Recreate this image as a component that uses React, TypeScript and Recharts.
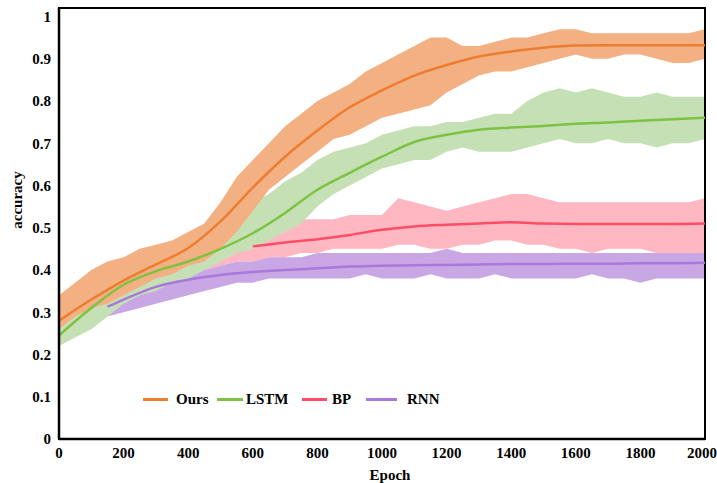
import {
  ComposedChart,
  Area,
  Line,
  XAxis,
  YAxis,
  Legend,
  ReferenceArea,
} from 'recharts'

// epochs sampled for the noisy bands
const bandEpochs = [
  0, 50, 100, 150, 200, 250, 300, 350, 400, 450, 500, 550, 600, 650, 700, 750, 800, 850, 900, 950,
  1000, 1050, 1100, 1150, 1200, 1250, 1300, 1350, 1400, 1450, 1500, 1550, 1600, 1650, 1700, 1750,
  1800, 1850, 1900, 1950, 2000,
]

const oursLow = [
  0.26, 0.29, 0.31, 0.32, 0.34, 0.36, 0.38, 0.39, 0.41, 0.42, 0.45, 0.49, 0.54, 0.59, 0.62, 0.65,
  0.68, 0.71, 0.72, 0.74, 0.76, 0.77, 0.78, 0.79, 0.82, 0.84, 0.86, 0.87, 0.87, 0.88, 0.89, 0.9,
  0.91, 0.9, 0.9, 0.91, 0.91, 0.9, 0.89, 0.89, 0.9,
]
const oursHigh = [
  0.34, 0.37, 0.4, 0.42, 0.43, 0.45, 0.46, 0.47, 0.49, 0.51, 0.56, 0.62, 0.66, 0.7, 0.74, 0.77,
  0.8, 0.82, 0.84, 0.87, 0.89, 0.91, 0.93, 0.95, 0.95, 0.93, 0.93, 0.94, 0.95, 0.95, 0.96, 0.97,
  0.97, 0.96, 0.96, 0.96, 0.96, 0.96, 0.96, 0.96, 0.97,
]
const lstmLow = [
  0.22, 0.24, 0.26, 0.29, 0.32, 0.34, 0.35, 0.37, 0.38, 0.4, 0.42, 0.44, 0.45, 0.47, 0.49, 0.51,
  0.55, 0.58, 0.6, 0.62, 0.64, 0.65, 0.66, 0.66, 0.68, 0.69, 0.68, 0.68, 0.68, 0.69, 0.7, 0.71,
  0.7, 0.7, 0.71, 0.7, 0.7, 0.69, 0.7, 0.7, 0.71,
]
const lstmHigh = [
  0.3, 0.33, 0.36, 0.38, 0.4, 0.42, 0.44, 0.45, 0.46, 0.48, 0.51, 0.54, 0.56, 0.58, 0.61, 0.63,
  0.66, 0.68, 0.69, 0.7, 0.72, 0.73, 0.74, 0.74, 0.75, 0.75, 0.76, 0.77, 0.77, 0.8, 0.82, 0.83,
  0.82, 0.83, 0.82, 0.81, 0.81, 0.82, 0.81, 0.81, 0.81,
]
const bpLow = [
  null, null, null, null, null, null, null, null, null, 0.4, 0.41, 0.42, 0.42, 0.43, 0.43, 0.44,
  0.44, 0.45, 0.45, 0.45, 0.45, 0.46, 0.46, 0.45, 0.45, 0.46, 0.46, 0.47, 0.47, 0.46, 0.46, 0.45,
  0.45, 0.44, 0.45, 0.45, 0.45, 0.44, 0.42, 0.43, 0.43,
]
const bpHigh = [
  null, null, null, null, null, null, null, null, null, 0.46, 0.48, 0.5, 0.51, 0.51, 0.51, 0.52,
  0.52, 0.52, 0.53, 0.53, 0.53, 0.57, 0.56, 0.55, 0.54, 0.55, 0.56, 0.57, 0.58, 0.58, 0.57, 0.56,
  0.56, 0.56, 0.56, 0.56, 0.56, 0.56, 0.56, 0.56, 0.57,
]
const rnnLow = [
  null, null, null, 0.29, 0.3, 0.31, 0.32, 0.33, 0.34, 0.35, 0.36, 0.37, 0.37, 0.38, 0.38, 0.38,
  0.38, 0.38, 0.38, 0.39, 0.38, 0.38, 0.38, 0.39, 0.38, 0.38, 0.38, 0.39, 0.38, 0.38, 0.38, 0.38,
  0.38, 0.39, 0.38, 0.38, 0.37, 0.38, 0.38, 0.38, 0.38,
]
const rnnHigh = [
  null, null, null, 0.33, 0.35, 0.37, 0.38, 0.39, 0.4, 0.4, 0.41, 0.42, 0.42, 0.43, 0.43, 0.43,
  0.44, 0.44, 0.44, 0.44, 0.44, 0.44, 0.44, 0.44, 0.45, 0.44, 0.44, 0.44, 0.44, 0.44, 0.44, 0.44,
  0.44, 0.44, 0.44, 0.44, 0.44, 0.44, 0.44, 0.44, 0.44,
]

// smoothed curves, read every 100 epochs
const lineEpochs = [
  0, 100, 200, 300, 400, 500, 600, 700, 800, 900, 1000, 1100, 1200, 1300, 1400, 1500, 1600, 1700,
  1800, 1900, 2000,
]
const oursLine = [
  0.28, 0.33, 0.375, 0.413, 0.452, 0.515, 0.595, 0.668, 0.73, 0.785, 0.825, 0.86, 0.885, 0.905,
  0.917, 0.926, 0.931, 0.932, 0.932, 0.932, 0.932,
]
const lstmLine = [
  0.245, 0.31, 0.365, 0.397, 0.42, 0.45, 0.487, 0.535, 0.59, 0.63, 0.668, 0.703, 0.72, 0.732,
  0.737, 0.741, 0.746, 0.749, 0.753, 0.757, 0.76,
]
const bpLine = [
  null, null, null, null, null, null, 0.456, 0.465, 0.473, 0.483, 0.495, 0.503, 0.507, 0.51,
  0.513, 0.51, 0.509, 0.509, 0.509, 0.509, 0.51,
]
const rnnLine = [
  null, 0.313, 0.33, 0.36, 0.377, 0.388, 0.395, 0.4, 0.404, 0.408, 0.41, 0.411, 0.412, 0.413,
  0.414, 0.414, 0.415, 0.415, 0.416, 0.416, 0.417,
]
const rnnLineStart = 150 // rnn curve begins a bit after epoch 100

const xTicks = [0, 200, 400, 600, 800, 1000, 1200, 1400, 1600, 1800, 2000]
const yTicks = [0, 0.1, 0.2, 0.3, 0.4, 0.5, 0.6, 0.7, 0.8, 0.9, 1]

const legendItems = [
  { name: 'Ours', color: '#ED7D31' },
  { name: 'LSTM', color: '#7DC243' },
  { name: 'BP', color: '#FF4D67' },
  { name: 'RNN', color: '#A878DA' },
]

const band = (lo: (number | null)[], hi: (number | null)[], i: number) =>
  lo[i] == null || hi[i] == null ? null : [lo[i], hi[i]]

const table = bandEpochs.map((epoch, i) => {
  const row: Record<string, any> = {
    epoch,
    oursBand: band(oursLow, oursHigh, i),
    lstmBand: band(lstmLow, lstmHigh, i),
    bpBand: band(bpLow, bpHigh, i),
    rnnBand: band(rnnLow, rnnHigh, i),
  }
  const j = lineEpochs.indexOf(epoch)
  if (j >= 0) {
    row.ours = oursLine[j]
    row.lstm = lstmLine[j]
    row.bp = bpLine[j]
    row.rnn = j === 1 ? null : rnnLine[j]
  }
  if (epoch === rnnLineStart) row.rnn = rnnLine[1]
  return row
})

const FONT = '"Liberation Serif", "Times New Roman", serif'
const tickStyle = { fontFamily: FONT, fontSize: 15, fontWeight: 700, fill: '#000' }

const legendLayout = [
  { sx: 143, sw: 25, tx: 176 },
  { sx: 217, sw: 26, tx: 246 },
  { sx: 302, sw: 25, tx: 332 },
  { sx: 366, sw: 31, tx: 407 },
]

function ChartLegend() {
  return (
    <div style={{ position: 'relative', width: 717, height: 20 }}>
      {legendItems.map((item, i) => (
        <div key={item.name}>
          <div
            style={{
              position: 'absolute',
              left: legendLayout[i].sx,
              top: 9,
              width: legendLayout[i].sw,
              height: 3,
              background: item.color,
            }}
          />
          <span
            style={{
              position: 'absolute',
              left: legendLayout[i].tx,
              top: 0,
              fontFamily: FONT,
              fontSize: 15,
              fontWeight: 700,
              lineHeight: '20px',
              color: '#000',
            }}
          >
            {item.name}
          </span>
        </div>
      ))}
    </div>
  )
}

export default function App() {
  return (
    <div style={{ position: 'absolute', left: 0, top: 0, background: '#fff' }}>
      <ComposedChart
        width={717}
        height={483}
        data={table}
        margin={{ top: 8, right: 12, bottom: 0, left: 0 }}
      >
        <XAxis
          dataKey="epoch"
          type="number"
          domain={[0, 2000]}
          ticks={xTicks}
          height={44}
          tickLine={false}
          axisLine={{ stroke: '#000', strokeWidth: 2.5 }}
          tick={tickStyle}
          label={{
            content: () => (
              <text x={390} y={480} textAnchor="middle" style={tickStyle}>
                Epoch
              </text>
            ),
          }}
        />
        <YAxis
          type="number"
          domain={[0, 1.02]}
          ticks={yTicks}
          width={59}
          tickLine={false}
          axisLine={{ stroke: '#000', strokeWidth: 2.5 }}
          tick={tickStyle}
          label={{
            content: () => (
              <text
                x={17}
                y={200}
                transform="rotate(-90 17 200)"
                textAnchor="middle"
                dominantBaseline="central"
                style={tickStyle}
              >
                accuracy
              </text>
            ),
          }}
        />

        <Area dataKey="bpBand" type="linear" stroke="none" fill="#FFB7C1" fillOpacity={1} isAnimationActive={false} />
        <Area dataKey="rnnBand" type="linear" stroke="none" fill="#C9A7E5" fillOpacity={1} isAnimationActive={false} />
        <Area dataKey="lstmBand" type="linear" stroke="none" fill="#C6E0B5" fillOpacity={1} isAnimationActive={false} />
        <Area dataKey="oursBand" type="linear" stroke="none" fill="#F3B083" fillOpacity={1} isAnimationActive={false} />

        <Line dataKey="rnn" type="monotone" stroke="#A878DA" strokeWidth={2.5} dot={false} connectNulls isAnimationActive={false} />
        <Line dataKey="bp" type="monotone" stroke="#FF4D67" strokeWidth={2.5} dot={false} connectNulls isAnimationActive={false} />
        <Line dataKey="lstm" type="monotone" stroke="#7DC243" strokeWidth={2.5} dot={false} connectNulls isAnimationActive={false} />
        <Line dataKey="ours" type="monotone" stroke="#ED7D31" strokeWidth={2.5} dot={false} connectNulls isAnimationActive={false} />

        <ReferenceArea x1={0} x2={2000} y1={0} y2={1.02} fill="none" stroke="#000" strokeWidth={2} ifOverflow="visible" />

        <Legend
          layout="horizontal"
          verticalAlign="middle"
          align="center"
          content={() => <ChartLegend />}
          wrapperStyle={{ left: 0, top: 389, width: 717, height: 20 }}
        />
      </ComposedChart>
    </div>
  )
}
